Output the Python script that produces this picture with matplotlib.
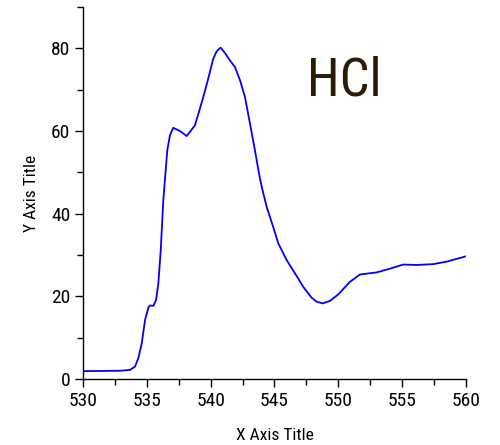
import matplotlib
matplotlib.use("Agg")
import matplotlib.pyplot as plt
from matplotlib.ticker import MultipleLocator

# Spectrum readings: photon energy (eV) vs. intensity
energy = [530.0, 531.5, 532.9, 533.68, 534.07, 534.33, 534.6, 534.86, 535.12,
          535.25, 535.51, 535.72, 535.9, 536.09, 536.29, 536.6, 536.81, 537.07,
          537.6, 538.12, 538.77, 539.42, 539.81, 540.2, 540.47, 540.78, 541.12,
          541.51, 541.9, 542.3, 542.69, 543.08, 543.47, 543.8, 544.0, 544.39,
          544.9, 545.3, 545.95, 546.86, 547.25, 547.9, 548.3, 548.77, 549.34,
          550.0, 550.9, 551.7, 553.0, 554.04, 555.08, 556.13, 557.43, 558.48,
          560.0]
intensity = [1.9, 1.95, 2.0, 2.2, 3.0, 5.0, 8.6, 14.3, 17.3,
             17.8, 17.7, 19.1, 23.1, 31.2, 43.3, 55.3, 59.0, 60.8,
             60.0, 58.8, 61.4, 68.2, 72.7, 77.5, 79.3, 80.2, 78.9,
             77.1, 75.5, 72.3, 68.2, 61.8, 55.3, 49.5, 46.5, 41.6,
             36.8, 32.8, 28.8, 24.3, 22.3, 19.7, 18.7, 18.3, 18.9,
             20.5, 23.5, 25.3, 25.8, 26.7, 27.7, 27.6, 27.8, 28.4,
             29.7]

x_ticks = [530, 535, 540, 545, 550, 555, 560]
y_ticks = [0, 20, 40, 60, 80]

plt.rcParams["font.family"] = ["Roboto Condensed", "Archivo Narrow", "DejaVu Sans"]

fig = plt.figure(figsize=(5.0, 4.45), dpi=100)
ax = fig.add_axes([0.166, 0.1483, 0.766, 0.8357])

ax.plot(energy, intensity, color="#0000ff", linewidth=1.3,
        solid_joinstyle="round", solid_capstyle="round")

ax.set_xlim(530, 560)
ax.set_ylim(0, 90)
ax.set_xticks(x_ticks)
ax.set_yticks(y_ticks)
ax.xaxis.set_minor_locator(MultipleLocator(2.5))
ax.yaxis.set_minor_locator(MultipleLocator(10))

for side in ("top", "right"):
    ax.spines[side].set_visible(False)
for side in ("left", "bottom"):
    ax.spines[side].set_linewidth(1.0)

ax.tick_params(which="major", direction="out", length=6, width=1.0,
               labelsize=14, pad=3)
ax.tick_params(which="minor", direction="out", length=4, width=1.0)

ax.set_xlabel("X Axis Title", fontsize=12.5, labelpad=13)
ax.set_ylabel("Y Axis Title", fontsize=12.5, labelpad=9)

ax.text(0.585, 0.80, "HCl", transform=ax.transAxes, fontsize=38,
        color="#2b1a06", ha="left", va="center")

fig.savefig("out.png", dpi=100)
